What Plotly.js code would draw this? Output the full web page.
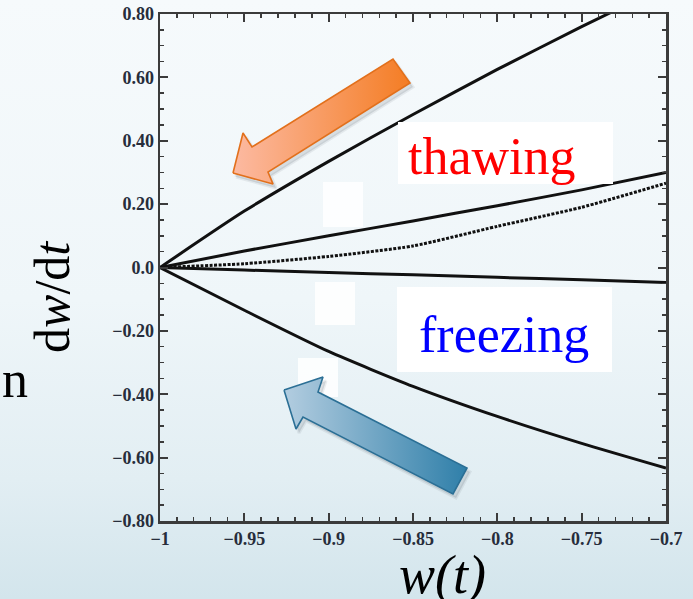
<!DOCTYPE html>
<html>
<head>
<meta charset="utf-8">
<script src="https://cdn.plot.ly/plotly-3.0.1.min.js"></script>
<style>
  html, body { margin: 0; padding: 0; }
  body {
    width: 693px; height: 599px; overflow: hidden;
    background: linear-gradient(180deg, #f6fafc 0%, #eff6f9 50%, #e2eef3 80%, #d3e5ec 100%);
  }
  #chart { width: 693px; height: 599px; }
</style>
</head>
<body>
<div id="chart"></div>
<script>
// Equation of state w and its rate of change dw/dt for several scalar-field models
const wValues       = [-1, -0.95, -0.9, -0.85, -0.8, -0.75, -0.7];
const steepThawing  = [0, 0.178, 0.335, 0.483, 0.625, 0.76, 0.89];
const mildThawing   = [0, 0.052, 0.100, 0.147, 0.195, 0.245, 0.30];
const slowThawing   = [0, 0.012, 0.035, 0.068, 0.13, 0.19, 0.266];
const mildFreezing  = [0, -0.008, -0.016, -0.023, -0.031, -0.039, -0.047];
const steepFreezing = [0, -0.135, -0.265, -0.375, -0.47, -0.555, -0.633];

// Axis ticks
const xTickVals = [-1, -0.95, -0.9, -0.85, -0.8, -0.75, -0.7];
const xTickText = ['\u22121', '\u22120.95', '\u22120.9', '\u22120.85', '\u22120.8', '\u22120.75', '\u22120.7'];
const yTickVals = [0.8, 0.6, 0.4, 0.2, 0, -0.2, -0.4, -0.6, -0.8];
const yTickText = ['0.80', '0.60', '0.40', '0.20', '0.0', '\u22120.20', '\u22120.40', '\u22120.60', '\u22120.80'];

// Region labels
const regionLabels = ['thawing', 'freezing'];

// ---- drawing ----
const serif = 'Liberation Serif, Times New Roman, serif';
const curveStyle = { color: '#111', width: 3, shape: 'spline', smoothing: 0.6 };

function curve(y, dash) {
  return {
    type: 'scatter', mode: 'lines', x: wValues, y: y,
    line: Object.assign({}, curveStyle, dash ? { dash: dash, width: 3 } : {}),
    hoverinfo: 'skip'
  };
}

// Decorative arrows, drawn on a pixel-unit overlay axis pair
const orangeArrow = {
  x: [233, 243, 252, 393, 410, 268, 273, 233],
  y: [173, 133, 147, 59, 83, 172, 184, 173]
};
const blueArrow = {
  x: [284, 323, 318, 467, 453, 303, 296, 284],
  y: [390, 377, 392, 468, 494, 417, 429, 390]
};

function arrowTrace(a, edge, c0, c1) {
  return {
    type: 'scatter', mode: 'lines', xaxis: 'x2', yaxis: 'y2',
    x: a.x, y: a.y,
    fill: 'toself',
    fillgradient: { type: 'horizontal', colorscale: [[0, c0], [1, c1]] },
    line: { color: edge, width: 1.6 },
    hoverinfo: 'skip'
  };
}
function shadowTrace(a) {
  return {
    type: 'scatter', mode: 'lines', xaxis: 'x2', yaxis: 'y2',
    x: a.x.map(v => v + 3), y: a.y.map(v => v + 4),
    fill: 'toself', fillcolor: 'rgba(90,100,110,0.18)',
    line: { color: 'rgba(90,100,110,0.10)', width: 3 },
    hoverinfo: 'skip'
  };
}

const traces = [
  curve(steepThawing),
  curve(mildThawing),
  curve(slowThawing, '3px,1.5px'),
  curve(mildFreezing),
  curve(steepFreezing),
  shadowTrace(orangeArrow),
  shadowTrace(blueArrow),
  arrowTrace(orangeArrow, '#e2701c', '#fcbaa2', '#f47d24'),
  arrowTrace(blueArrow, '#2b6f95', '#b3cde0', '#2f7fa9')
];

const tickFont = { family: serif, size: 18, color: '#272d3b', weight: 'bold' };
const frame = {
  showline: true, linewidth: 2.5, linecolor: '#3b3b3b', mirror: 'ticks',
  ticks: 'inside', ticklen: 8, tickwidth: 2, tickcolor: '#3b3b3b',
  showgrid: false, zeroline: false, tickfont: tickFont
};

const layout = {
  width: 693, height: 599,
  margin: { l: 160, r: 27, t: 14, b: 78 },
  paper_bgcolor: 'rgba(0,0,0,0)',
  plot_bgcolor: 'rgba(0,0,0,0)',
  showlegend: false,
  xaxis: Object.assign({}, frame, {
    range: [-1, -0.7], tickmode: 'array', tickvals: xTickVals, ticktext: xTickText,
    minor: { tickmode: 'linear', tick0: -1, dtick: 0.01, ticks: 'inside', ticklen: 4, tickwidth: 1.5, tickcolor: '#3b3b3b', showgrid: false }
  }),
  yaxis: Object.assign({}, frame, {
    range: [-0.8, 0.8], tickmode: 'array', tickvals: yTickVals, ticktext: yTickText,
    minor: { tickmode: 'linear', tick0: 0, dtick: 0.05, ticks: 'inside', ticklen: 4, tickwidth: 1.5, tickcolor: '#3b3b3b', showgrid: false }
  }),
  xaxis2: { overlaying: 'x', range: [160, 666], visible: false, fixedrange: true },
  yaxis2: { overlaying: 'y', range: [521, 14], visible: false, fixedrange: true },
  shapes: [
    // faint light patches on the panel
    { type: 'rect', xref: 'x2', yref: 'y2', x0: 323, x1: 363, y0: 182, y1: 227, fillcolor: 'rgba(255,255,255,0.85)', line: { width: 0 }, layer: 'below' },
    { type: 'rect', xref: 'x2', yref: 'y2', x0: 315, x1: 355, y0: 282, y1: 325, fillcolor: 'rgba(255,255,255,0.85)', line: { width: 0 }, layer: 'below' },
    { type: 'rect', xref: 'x2', yref: 'y2', x0: 298, x1: 338, y0: 358, y1: 397, fillcolor: 'rgba(255,255,255,0.85)', line: { width: 0 }, layer: 'below' },
    // label boxes
    { type: 'rect', xref: 'x2', yref: 'y2', x0: 398, x1: 613, y0: 122, y1: 184, fillcolor: '#ffffff', line: { width: 0 }, layer: 'above' },
    { type: 'rect', xref: 'x2', yref: 'y2', x0: 397, x1: 612, y0: 287, y1: 372, fillcolor: '#ffffff', line: { width: 0 }, layer: 'above' }
  ],
  annotations: [
    { xref: 'x2', yref: 'y2', x: 492, y: 156, text: regionLabels[0], showarrow: false,
      font: { family: serif, size: 52, color: '#ff0000' } },
    { xref: 'x2', yref: 'y2', x: 504, y: 334, text: regionLabels[1], showarrow: false,
      font: { family: serif, size: 52, color: '#0000ff' } },
    { xref: 'paper', yref: 'paper', x: -0.2134, y: 0.442, xanchor: 'center', yanchor: 'middle',
      text: 'd<i>w</i>/d<i>t</i>', showarrow: false,
      textangle: -90, font: { family: serif, size: 50, color: '#000' } },
    { xref: 'paper', yref: 'paper', x: 0.559, y: -0.107, xanchor: 'center', yanchor: 'middle',
      text: '<i>w(t)</i>', showarrow: false,
      font: { family: serif, size: 54, color: '#000' } },
    { xref: 'paper', yref: 'paper', x: -0.257, y: 0.280, xanchor: 'right', yanchor: 'middle',
      text: 'n', showarrow: false,
      font: { family: serif, size: 52, color: '#000' } }
  ]
};

Plotly.newPlot('chart', traces, layout, { staticPlot: true, displayModeBar: false });
</script>
</body>
</html>
